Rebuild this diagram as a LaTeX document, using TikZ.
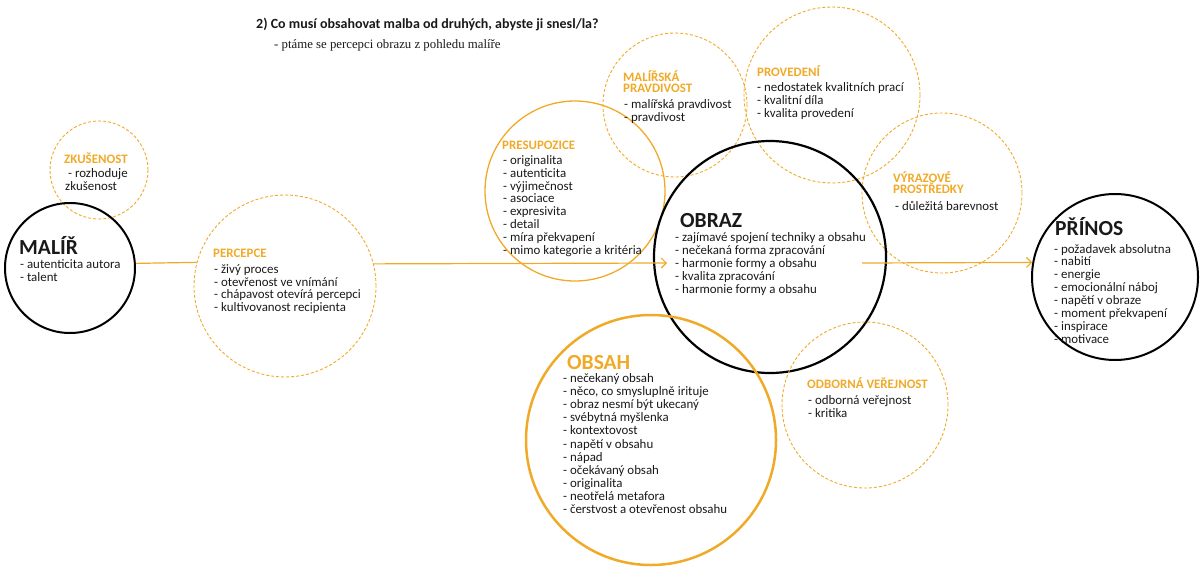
\documentclass[tikz,border=0pt]{standalone}
\usepackage{fontspec}
\setmainfont{Carlito}
\newfontfamily\notefont{Liberation Serif}
\usetikzlibrary{arrows.meta}

\definecolor{ochre}{RGB}{240,170,40}
\definecolor{ink}{RGB}{25,25,25}

\tikzset{
  ring/.style={circle, inner sep=0pt, minimum size=#1},
  mainring/.style={draw=black, line width=2pt},
  goldring/.style={draw=ochre, line width=#1},
  dashring/.style={draw=ochre, line width=0.9pt, dash pattern=on 3pt off 2pt},
  flow/.style={draw=ochre, line width=1.2pt},
  flowtip/.style={flow, -{Straight Barb[length=5pt,width=10pt,line width=1.2pt]}},
  item/.style={anchor=base west, inner sep=0pt, text=ink, font=\fontsize{12.9}{13}\selectfont},
  head/.style={anchor=base west, inner sep=0pt, text=ochre, font=\bfseries\fontsize{12.9}{13}\selectfont},
  bighead/.style={anchor=base west, inner sep=0pt, text=ink, font=\bfseries\fontsize{21.5}{24}\selectfont},
}

\begin{document}
\begin{tikzpicture}[x=1pt,y=-1pt]
\useasboundingbox (0,0) rectangle (1201,570);

% circles
\node[ring=98, dashring] (zkusenost) at (99,170) {};
\node[ring=130, mainring] (malir) at (70,268) {};
\node[ring=182, dashring] (percepce) at (285,286) {};
\node[ring=180, goldring=1.3pt] (presupozice) at (575,191) {};
\node[ring=144, dashring] (malirska) at (675,105) {};
\node[ring=176, dashring] (provedeni) at (832,95) {};
\node[ring=160, dashring] (vyrazove) at (942,193) {};
\node[ring=232, mainring, line width=2.2pt] (obraz) at (770,257) {};
\node[ring=250, goldring=2.5pt] (obsah) at (651,440) {};
\node[ring=166, dashring] (odborna) at (865,405) {};
\node[ring=166, mainring] (prinos) at (1115,277) {};

% connectors
\coordinate (obraz-in) at (667,263);
\coordinate (obraz-out) at (862,263);
\draw[flow] (malir.4.4) -- (percepce.165.4);
\draw[flowtip] (percepce.14.6) -- (obraz-in);
\draw[flowtip] (obraz-out) -- (prinos.170.3);

% question
\node[anchor=base west, inner sep=0pt, text=ink, font=\bfseries\fontsize{14}{16}\selectfont] (otazka) at (256,28.5) {2) Co musí obsahovat malba od druhých, abyste ji snesl/la?};
\node[anchor=base west, inner sep=0pt, text=ink, font=\notefont\fontsize{12.8}{14}\selectfont] (poznamka) at (274,48) {- ptáme se percepci obrazu z pohledu malíře};

% ZKUŠENOST
\node[head] (zk-h) at (64,163) {ZKUŠENOST};
\node[item] (zk-1) at (68,177) {- rozhoduje};
\node[item] (zk-2) at (65,190.5) {zkušenost};

% MALÍŘ
\node[bighead] (ma-h) at (19,254) {MALÍŘ};
\node[item] (ma-1) at (20,268) {- autenticita autora};
\node[item] (ma-2) at (20,281) {- talent};

% PERCEPCE
\node[head] (pe-h) at (213,257.5) {PERCEPCE};
\foreach \t [count=\i from 0] in {- živý proces, - otevřenost ve vnímání, - chápavost otevírá percepci, - kultivovanost recipienta}
  \node[item] (pe-\i) at (214,273.5+12.7*\i) {\t};

% PRESUPOZICE
\node[head] (pr-h) at (502,149.5) {PRESUPOZICE};
\foreach \t [count=\i from 0] in {- originalita, - autenticita, - výjimečnost, - asociace, - expresivita, - detail, - míra překvapení, - mimo kategorie a kritéria}
  \node[item] (pr-\i) at (503,164.5+12.8*\i) {\t};

% MALÍŘSKÁ PRAVDIVOST
\node[head] (mp-h1) at (623,81) {MALÍŘSKÁ};
\node[head] (mp-h2) at (623,92.5) {PRAVDIVOST};
\node[item] (mp-1) at (624,108.5) {- malířská pravdivost};
\node[item] (mp-2) at (624,121) {- pravdivost};

% PROVEDENÍ
\node[head] (pv-h) at (757,76.5) {PROVEDENÍ};
\foreach \t [count=\i from 0] in {- nedostatek kvalitních prací, - kvalitní díla, - kvalita provedení}
  \node[item] (pv-\i) at (757,91.5+13*\i) {\t};

% VÝRAZOVÉ PROSTŘEDKY
\node[head] (vp-h1) at (893,182) {VÝRAZOVÉ};
\node[head] (vp-h2) at (893,193.5) {PROSTŘEDKY};
\node[item] (vp-1) at (895,210) {- důležitá barevnost};

% OBRAZ
\node[bighead] (ob-h) at (680,227) {OBRAZ};
\foreach \t [count=\i from 0] in {- zajímavé spojení techniky a obsahu, - nečekaná forma zpracování, - harmonie formy a obsahu, - kvalita zpracování, - harmonie formy a obsahu}
  \node[item] (ob-\i) at (675,241.5+13*\i) {\t};

% PŘÍNOS
\node[bighead] (pn-h) at (1055,235.5) {PŘÍNOS};
\foreach \t [count=\i from 0] in {- požadavek absolutna, - nabití, - energie, - emocionální náboj, - napětí v obraze, - moment překvapení, - inspirace, - motivace}
  \node[item] (pn-\i) at (1054,253+12.9*\i) {\t};

% OBSAH
\node[bighead, text=ochre] (os-h) at (567,369) {OBSAH};
\foreach \t [count=\i from 0] in {- nečekaný obsah, {- něco, co smysluplně irituje}, - obraz nesmí být ukecaný, - svébytná myšlenka, - kontextovost, - napětí v obsahu, - nápad, - očekávaný obsah, - originalita, - neotřelá metafora, - čerstvost a otevřenost obsahu}
  \node[item] (os-\i) at (563,382.5+13.1*\i) {\t};

% ODBORNÁ VEŘEJNOST
\node[head] (ov-h) at (807,388.5) {ODBORNÁ VEŘEJNOST};
\node[item] (ov-1) at (808,404.5) {- odborná veřejnost};
\node[item] (ov-2) at (808,417.5) {- kritika};
\end{tikzpicture}
\end{document}
